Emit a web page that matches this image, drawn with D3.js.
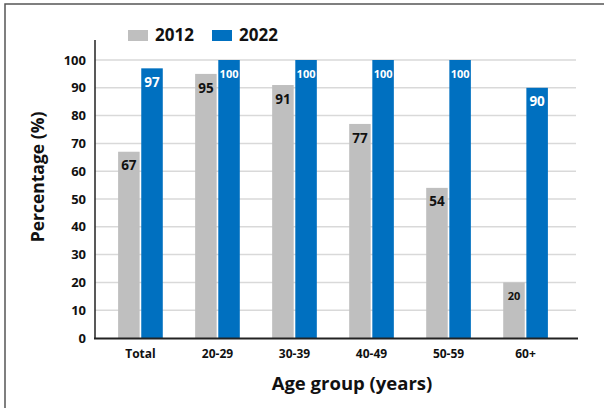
<!DOCTYPE html>
<html><head><meta charset="utf-8">
<script src="https://cdn.jsdelivr.net/npm/d3@7"></script>
<style>body{margin:0;background:#fff}svg{display:block}text{font-family:"Open Sans","Noto Sans",sans-serif;font-weight:700}</style>
</head><body><svg id="c" width="604" height="408"></svg>
<script>
const categories = ["Total","20-29","30-39","40-49","50-59","60+"];
const seriesNames = ["2012","2022"];
const values2012 = [67,95,91,77,54,20];
const values2022 = [97,100,100,100,100,90];
const yTicks = [0,10,20,30,40,50,60,70,80,90,100];
const colors = {"2012":"#bfbfbf","2022":"#0070c0"};

const svg = d3.select("#c");
svg.append("rect").attr("x",5).attr("y",4).attr("width",640).attr("height",440)
  .attr("fill","none").attr("stroke","#555").attr("stroke-width",1.5);

const y = d3.scaleLinear().domain([0,100]).range([338,60]);
const x = d3.scaleBand().domain(categories).range([95,571]).paddingInner(0.42).paddingOuter(0.3);
const xs = d3.scaleBand().domain(seriesNames).range([0,x.bandwidth()]).paddingInner(0.07);

// gridlines
svg.append("g").selectAll("line").data(yTicks.filter(t=>t>0)).join("line")
  .attr("x1",95).attr("x2",576).attr("y1",d=>y(d)).attr("y2",d=>y(d))
  .attr("stroke","#d9d9d9").attr("stroke-width",1.5);

// y axis
const ya = svg.append("g").attr("transform","translate(95,0)")
  .call(d3.axisLeft(y).tickValues(yTicks).tickSize(0).tickPadding(9));
ya.select(".domain").remove();
ya.selectAll("text").attr("font-size",13).attr("fill","#111").style("font-weight",700);
svg.append("line").attr("x1",95).attr("x2",95).attr("y1",40).attr("y2",339).attr("stroke","#222").attr("stroke-width",1.5);

// bars
const data = categories.map((c,i)=>({cat:c, vals:[{s:"2012",v:values2012[i]},{s:"2022",v:values2022[i]}]}));
const g = svg.append("g").selectAll("g").data(data).join("g")
  .attr("transform",d=>`translate(${x(d.cat)},0)`);
g.selectAll("rect").data(d=>d.vals).join("rect")
  .attr("x",d=>xs(d.s)).attr("width",xs.bandwidth())
  .attr("y",d=>y(d.v)).attr("height",d=>y(0)-y(d.v))
  .attr("fill",d=>colors[d.s]);
g.selectAll("text").data(d=>d.vals).join("text")
  .attr("x",d=>xs(d.s)+xs.bandwidth()/2).attr("y",d=>y(d.v)+15)
  .attr("text-anchor","middle").attr("dominant-baseline","middle")
  .attr("font-size",d=>d.v>=100?11:(d.s==="2012"&&d.v<30?11:13.5))
  .attr("fill",d=>d.s==="2022"?"#fff":"#111")
  .text(d=>d.v);

// baseline
svg.append("line").attr("x1",94).attr("x2",578).attr("y1",338.5).attr("y2",338.5).attr("stroke","#222").attr("stroke-width",2);

// x axis labels
const xa = svg.append("g").attr("transform","translate(0,338)")
  .call(d3.axisBottom(x).tickSize(0).tickPadding(11));
xa.select(".domain").remove();
xa.selectAll("text").attr("font-size",12).attr("fill","#111").style("font-weight",700);

// titles
svg.append("text").attr("x",352).attr("y",390).attr("text-anchor","middle").attr("font-size",18.5).attr("fill","#111").text("Age group (years)");
svg.append("text").attr("transform","translate(44,177) rotate(-90)").attr("text-anchor","middle").attr("font-size",17.5).attr("fill","#111").text("Percentage (%)");

// legend
const leg = svg.append("g").selectAll("g").data(seriesNames).join("g")
  .attr("transform",(d,i)=>`translate(${128+i*84},30)`);
leg.append("rect").attr("width",20).attr("height",11).attr("fill",d=>colors[d]);
leg.append("text").attr("x",27).attr("y",6).attr("dominant-baseline","middle").attr("font-size",17).attr("fill","#111").text(d=>d);
</script></body></html>
